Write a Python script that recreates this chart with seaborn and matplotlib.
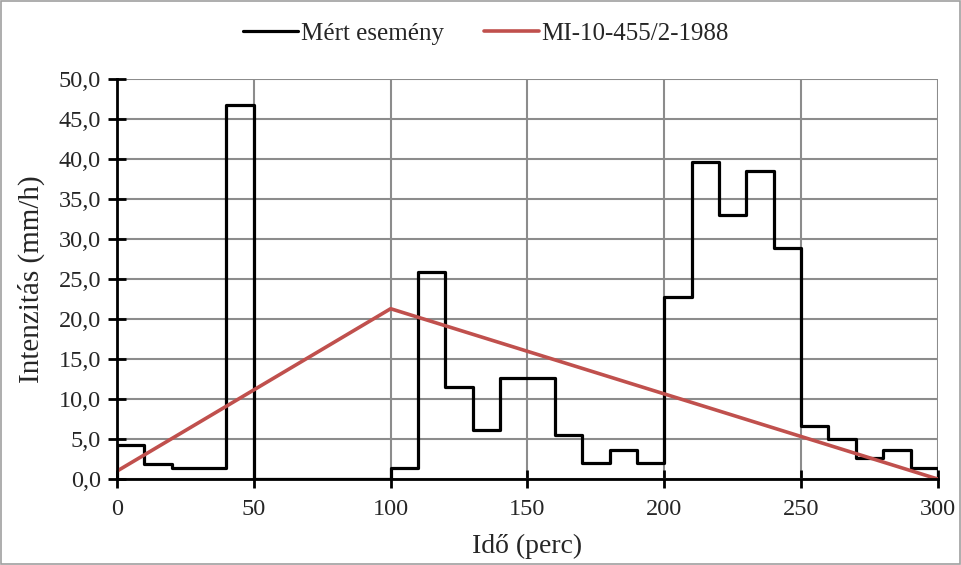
import matplotlib
matplotlib.use("Agg")
import matplotlib.pyplot as plt
import seaborn as sns
from matplotlib.patches import Rectangle

# data
bin_edges = list(range(0, 301, 10))
measured = [4.3, 1.9, 1.4, 1.4, 46.8, 0.0, 0.0, 0.0, 0.0, 0.0,
            1.4, 25.9, 11.5, 6.1, 12.6, 12.6, 5.5, 2.0, 3.7, 2.0,
            22.8, 39.7, 33.0, 38.5, 28.9, 6.6, 5.0, 2.6, 3.7, 1.4]
design_x = [0, 100, 300]
design_y = [1.0, 21.3, 0.0]
x_ticks = [0, 50, 100, 150, 200, 250, 300]
y_ticks = [0, 5, 10, 15, 20, 25, 30, 35, 40, 45, 50]
y_ticklabels = ["0,0", "5,0", "10,0", "15,0", "20,0", "25,0", "30,0", "35,0", "40,0", "45,0", "50,0"]

sns.set_style("white")
plt.rcParams["font.family"] = ["Liberation Serif", "DejaVu Serif"]

# step outline: start and end on the axis
step_x = [0] + bin_edges + [300]
step_y = [0] + measured + [measured[-1], 0]

fig = plt.figure(figsize=(9.62, 5.65), dpi=100)
ax = fig.add_axes([0.1216, 0.152, 0.8534, 0.708])

sns.lineplot(x=step_x, y=step_y, drawstyle="steps-post", color="black", lw=2.3,
             estimator=None, sort=False, ax=ax, label="Mért esemény", zorder=3)
sns.lineplot(x=design_x, y=design_y, color="#C0504D", lw=2.6,
             estimator=None, sort=False, ax=ax, label="MI-10-455/2-1988", zorder=4)

ax.set_xlim(0, 300)
ax.set_ylim(0, 50)
ax.set_xticks(x_ticks)
ax.set_yticks(y_ticks)
ax.set_yticklabels(y_ticklabels)
ax.grid(True, color="#8c8c8c", lw=1.5)
ax.set_axisbelow(True)
for s in ["top", "right"]:
    ax.spines[s].set_visible(False)
for s in ["left", "bottom"]:
    ax.spines[s].set_color("black")
    ax.spines[s].set_linewidth(2.0)
    ax.spines[s].set_zorder(5)
ax.tick_params(direction="inout", length=13, width=2.0, color="black",
               labelsize=17.5, left=True, bottom=True)
ax.tick_params(axis="y", pad=5)
ax.tick_params(axis="x", pad=8)

ax.set_xlabel("Idő (perc)", fontsize=20, labelpad=10)
ax.set_ylabel("Intenzitás (mm/h)", fontsize=21, labelpad=10)

handles, labels = ax.get_legend_handles_labels()
ax.legend_.remove()
fig.legend(handles, labels, loc="upper center", bbox_to_anchor=(0.505, 1.0), ncol=2,
           frameon=False, fontsize=18, handlelength=2.2, handletextpad=0.1,
           columnspacing=1.6)

fig.patches.append(Rectangle((0.001, 0.001), 0.997, 0.997, transform=fig.transFigure,
                             fill=False, edgecolor="#a0a0a0", lw=1.2))

plt.savefig("out.png", dpi=100)
plt.close()
